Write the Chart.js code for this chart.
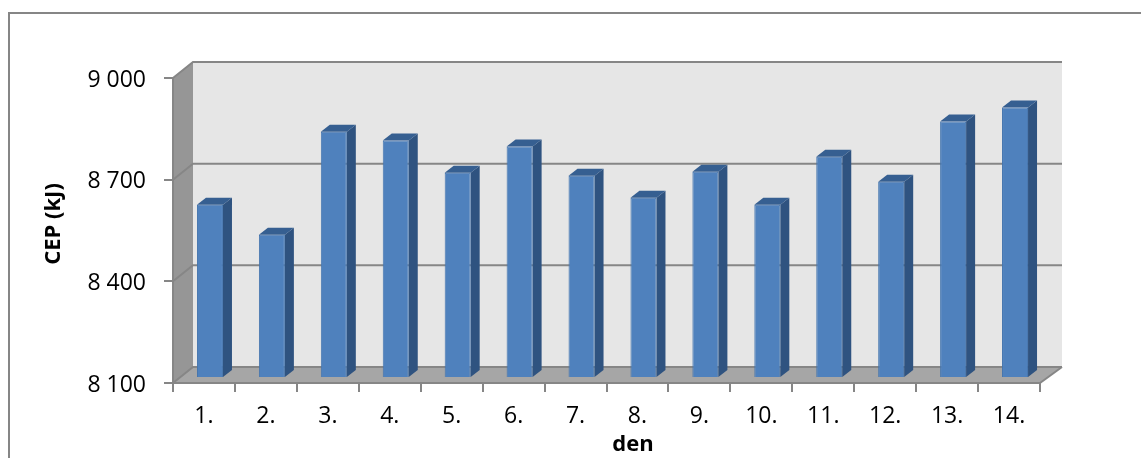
<!DOCTYPE html>
<html>
<head>
  <title>CEP</title>
  <style>
    body { margin: 0; padding: 0; background: white; overflow: hidden; }
    canvas { display: block; }
  </style>
</head>
<body>
  <canvas id="chart" width="1141" height="458"></canvas>

  <script src="https://cdn.jsdelivr.net/npm/chart.js"></script>
  <script>
    const days = ["1.", "2.", "3.", "4.", "5.", "6.", "7.", "8.", "9.", "10.", "11.", "12.", "13.", "14."];
    const cep = [8608, 8520, 8824, 8798, 8703, 8780, 8694, 8629, 8706, 8608, 8750, 8676, 8854, 8895];
    const yTicks = [8100, 8400, 8700, 9000];
    const xTitle = "den";
    const yTitle = "CEP (kJ)";

    // Chart.js has no 3D bars, so the box is painted around its scales
    const wallDx = 20, wallDxRight = 22, wallDy = -16;   // front plane -> back wall
    const barDx = 6, barDy = -6;       // front plane -> bar front face
    const sideDx = 9, sideDy = -7;     // bar depth
    const axisColor = "#868686";
    const fontName = "Open Sans";

    function poly(ctx, pts, fill) {
      ctx.beginPath();
      pts.forEach((p, i) => i ? ctx.lineTo(p[0], p[1]) : ctx.moveTo(p[0], p[1]));
      ctx.closePath();
      ctx.fillStyle = fill;
      ctx.fill();
    }

    const box3d = {
      id: "box3d",
      beforeDraw(chart) {
        const ctx = chart.ctx;
        const { left, right, top, bottom } = chart.chartArea;
        const backR = right + wallDxRight;
        ctx.save();

        // outer frame, runs off the bottom and right of the picture
        ctx.strokeStyle = axisColor;
        ctx.lineWidth = 2;
        ctx.beginPath();
        ctx.moveTo(9, 470);
        ctx.lineTo(9, 13);
        ctx.lineTo(1150, 13);
        ctx.stroke();

        // back wall, side wall, floor
        poly(ctx, [[left + wallDx, top + wallDy], [backR, top + wallDy], [backR, bottom + wallDy], [left + wallDx, bottom + wallDy]], "#e6e6e6");
        poly(ctx, [[left, top], [left + wallDx, top + wallDy], [left + wallDx, bottom + wallDy], [left, bottom]], "#969696");
        poly(ctx, [[left, bottom], [left + wallDx, bottom + wallDy], [backR, bottom + wallDy], [right, bottom]], "#a6a6a6");

        // gridlines go along the side wall and then across the back wall
        ctx.strokeStyle = axisColor;
        ctx.lineWidth = 2;
        yTicks.forEach(v => {
          const y = chart.scales.y.getPixelForValue(v);
          ctx.beginPath();
          ctx.moveTo(left, y);
          ctx.lineTo(left + wallDx, y + wallDy);
          ctx.lineTo(backR, y + wallDy);
          ctx.stroke();
        });
        ctx.beginPath();
        ctx.moveTo(right, bottom);
        ctx.lineTo(backR, bottom + wallDy);
        ctx.stroke();
        ctx.restore();

        // y labels sit a little low in the original
        chart.scales.y.getLabelItems().forEach(item => { item.options.translation[1] += 2; });
      },
      beforeDatasetDraw(chart, args) {
        const ctx = chart.ctx;
        const b = chart.chartArea.bottom;
        ctx.save();
        ctx.translate(barDx, barDy);
        args.meta.data.forEach(bar => {
          const l = bar.x - bar.width / 2, r = bar.x + bar.width / 2;
          const t = bar.y;
          poly(ctx, [[r, t], [r + sideDx, t + sideDy], [r + sideDx, b + sideDy], [r, b]], "#2f5380");
          poly(ctx, [[l, t], [l + sideDx, t + sideDy], [r + sideDx, t + sideDy], [r, t]], "#365f91");
        });
      },
      afterDatasetDraw(chart) {
        chart.ctx.restore();
      },
      afterDraw(chart) {
        // the axis titles are off-centre in the original, scale titles can't do that
        const ctx = chart.ctx;
        ctx.save();
        ctx.fillStyle = "#000";
        ctx.font = "bold 22px '" + fontName + "'";
        ctx.textAlign = "center";
        ctx.textBaseline = "middle";
        ctx.fillText(xTitle, 633, 445);
        ctx.translate(54, 224);
        ctx.rotate(-Math.PI / 2);
        ctx.fillText(yTitle, 0, 0);
        ctx.restore();
      }
    };

    new Chart(document.getElementById("chart"), {
      type: "bar",
      data: {
        labels: days,
        datasets: [{
          data: cep,
          backgroundColor: "#4f81bd",
          borderColor: "#4475ae",
          borderWidth: 1,
          barPercentage: 0.42,
          categoryPercentage: 1
        }]
      },
      plugins: [box3d],
      options: {
        responsive: false,
        animation: false,
        layout: { padding: { left: 44, right: 101, top: 78, bottom: 2 } },
        plugins: { legend: { display: false }, tooltip: { enabled: false } },
        scales: {
          x: {
            afterFit(s) { s.height = 73; },
            grid: { drawOnChartArea: false, color: axisColor, lineWidth: 2, tickLength: 9 },
            border: { color: axisColor, width: 2 },
            ticks: { color: "#000", maxRotation: 0, padding: 11, font: { family: fontName, size: 23 } }
          },
          y: {
            min: 8100,
            max: 9000,
            afterFit(s) { s.width = 129; },
            grid: { drawOnChartArea: false, color: axisColor, lineWidth: 2, tickLength: 9 },
            border: { color: axisColor, width: 2 },
            afterBuildTicks(s) { s.ticks = yTicks.map(v => ({ value: v })); },
            ticks: {
              color: "#000",
              padding: 18,
              font: { family: fontName, size: 23 },
              callback: v => String(v).replace(/(\d)(\d{3})$/, "$1 $2")
            }
          }
        }
      }
    });
  </script>
</body>
</html>
